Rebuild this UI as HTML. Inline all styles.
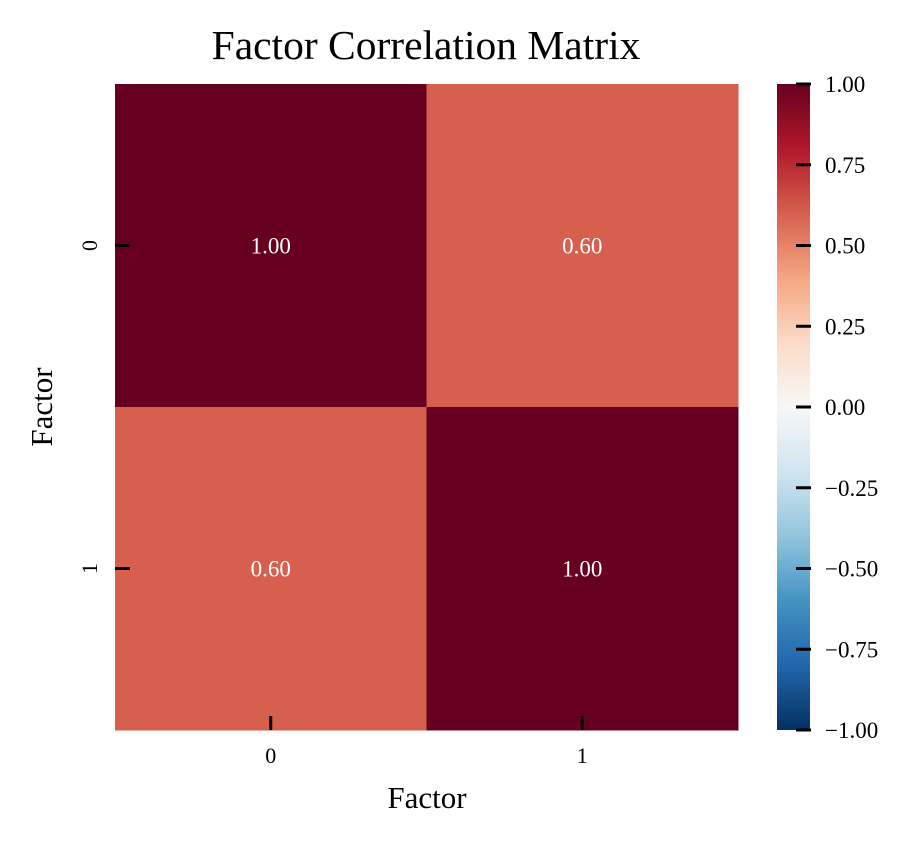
<!DOCTYPE html>
<html><head><meta charset="utf-8"><style>
html,body{margin:0;padding:0;background:#fff;}
svg text{font-family:"Liberation Serif",serif;}
</style></head><body>
<svg id="chart" width="912" height="846" viewBox="0 0 912 846" xmlns="http://www.w3.org/2000/svg">
<defs>
<linearGradient id="rdbu" x1="0" y1="1" x2="0" y2="0">
<stop offset="0" stop-color="#053061"/><stop offset="0.1" stop-color="#2166ac"/>
<stop offset="0.2" stop-color="#4393c3"/><stop offset="0.3" stop-color="#92c5de"/>
<stop offset="0.4" stop-color="#d1e5f0"/><stop offset="0.5" stop-color="#f7f7f7"/>
<stop offset="0.6" stop-color="#fddbc7"/><stop offset="0.7" stop-color="#f4a582"/>
<stop offset="0.8" stop-color="#d6604d"/><stop offset="0.9" stop-color="#b2182b"/>
<stop offset="1" stop-color="#67001f"/>
</linearGradient>
</defs>
<text x="426" y="59" font-size="41.5" text-anchor="middle">Factor Correlation Matrix</text>
<g id="cells"></g>
<rect x="777" y="84" width="33" height="646" fill="url(#rdbu)"/>
<g id="axes"></g>
<text x="427" y="808" font-size="31" text-anchor="middle">Factor</text>
<text transform="translate(52,407) rotate(-90)" font-size="31" text-anchor="middle">Factor</text>
</svg>
<script>
const categories = ["0", "1"];
const values = [[1.00, 0.60], [0.60, 1.00]];
const cbarTicks = [1.00, 0.75, 0.50, 0.25, 0.00, -0.25, -0.50, -0.75, -1.00];
const NS = "http://www.w3.org/2000/svg";
const X0 = 115, X1 = 738, Y0 = 84, Y1 = 730;
const cw = (X1 - X0) / categories.length, ch = (Y1 - Y0) / categories.length;
const stops = [[-1,[5,48,97]],[-0.8,[33,102,172]],[-0.6,[67,147,195]],[-0.4,[146,197,222]],[-0.2,[209,229,240]],[0,[247,247,247]],[0.2,[253,219,199]],[0.4,[244,165,130]],[0.6,[214,96,77]],[0.8,[178,24,43]],[1,[103,0,31]]];
function color(v){for(let i=0;i<stops.length-1;i++){const a=stops[i],b=stops[i+1];if(v<=b[0]+1e-9){const t=Math.max(0,Math.min(1,(v-a[0])/(b[0]-a[0])));return "rgb("+a[1].map((c,k)=>Math.round(c+(b[1][k]-c)*t)).join(",")+")";}}return "rgb(103,0,31)";}
function xPos(i){return X0 + cw*i;}
function yPos(j){return Y0 + ch*j;}
function cbY(v){return Y1 - (v+1)/2*(Y1-Y0);}
function mk(tag, attrs, parent){const e=document.createElementNS(NS,tag);for(const k in attrs)e.setAttribute(k,attrs[k]);parent.appendChild(e);return e;}
const cells = document.getElementById("cells"), axes = document.getElementById("axes");
values.forEach((row, j) => row.forEach((v, i) => {
  const r = mk("rect", {x: xPos(i), y: yPos(j), width: cw+0.5, height: ch+0.5, fill: color(v)}, cells);
  
  
  const t = mk("text", {x: xPos(i)+cw/2, y: yPos(j)+ch/2+8, "font-size": 23, "text-anchor": "middle", fill: "#fff"}, cells);
  t.textContent = v.toFixed(2);
  
  
}));
categories.forEach((c, i) => {
  const cx = xPos(i)+cw/2;
  const tk = mk("line", {x1: cx, x2: cx, y1: Y1-14, y2: Y1, stroke: "#000", "stroke-width": 3}, axes);
  
  
  const tl = mk("text", {x: cx, y: 763, "font-size": 22, "text-anchor": "middle"}, axes);
  tl.textContent = c;
  
  
  const cy = yPos(i)+ch/2;
  const yk = mk("line", {x1: X0, x2: X0+15, y1: cy, y2: cy, stroke: "#000", "stroke-width": 3}, axes);
  
  
  const yl = mk("text", {transform: "translate(97,"+cy+") rotate(-90)", "font-size": 22, "text-anchor": "middle"}, axes);
  yl.textContent = c;
  
  
});
cbarTicks.forEach(v => {
  const y = cbY(v);
  const tk = mk("line", {x1: 796, x2: 811, y1: y, y2: y, stroke: "#000", "stroke-width": 3}, axes);
  
  
  const tl = mk("text", {x: 825, y: y+8, "font-size": 23}, axes);
  tl.textContent = (v < 0 ? "\u2212" : "") + Math.abs(v).toFixed(2);
  
  
});
</script>
</body></html>
